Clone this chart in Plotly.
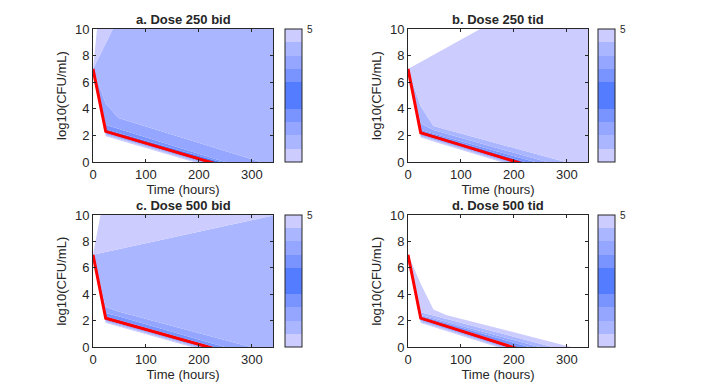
import plotly.graph_objects as go

# ---------------- data ----------------
T = [0, 24, 48, 72, 96, 120, 144, 168, 192, 216, 240, 264, 288, 312, 340]

# Panel a: Dose 250 bid  (percentile curves, low -> high)
A_LO5 = [7.00, 1.94, 1.66, 1.38, 1.10, 0.82, 0.54, 0.26, -0.03, -0.31, -0.59, -0.87, -1.15, -1.43, -1.76]
A_LO4 = [7.00, 2.02, 1.74, 1.46, 1.18, 0.90, 0.62, 0.34, 0.05, -0.23, -0.51, -0.79, -1.07, -1.35, -1.68]
A_LO3 = [7.00, 2.09, 1.81, 1.53, 1.25, 0.97, 0.69, 0.41, 0.12, -0.16, -0.44, -0.72, -1.00, -1.28, -1.61]
A_LO2 = [7.00, 2.16, 1.88, 1.60, 1.32, 1.04, 0.76, 0.48, 0.19, -0.09, -0.37, -0.65, -0.93, -1.21, -1.54]
A_LO1 = [7.00, 2.23, 1.95, 1.67, 1.39, 1.11, 0.83, 0.55, 0.26, -0.02, -0.30, -0.58, -0.86, -1.14, -1.47]
A_MED = [7.00, 2.30, 2.02, 1.74, 1.46, 1.18, 0.90, 0.62, 0.33, 0.05, -0.23, -0.51, -0.79, -1.07, -1.40]
A_HI1 = [7.00, 2.45, 2.18, 1.91, 1.64, 1.37, 1.10, 0.83, 0.55, 0.28, 0.01, -0.26, -0.53, -0.80, -1.12]
A_HI2 = [7.00, 2.80, 2.50, 2.20, 1.90, 1.60, 1.30, 1.00, 0.70, 0.40, 0.12, -0.17, -0.47, -0.77, -1.12]
A_HI3 = [7.00, 4.40, 3.30, 3.00, 2.70, 2.40, 2.12, 1.82, 1.52, 1.23, 0.94, 0.64, 0.35, 0.06, -0.28]
A_HI4 = [7.00, 8.90, 10.84, 11.5, 12.0, 12.5, 13.0, 13.3, 13.6, 13.9, 14.2, 14.5, 14.8, 15.1, 15.4]
A_HI5 = [7.00, 16.5, 18.0, 19.0, 19.8, 20.5, 21.0, 21.5, 22.0, 22.4, 22.8, 23.2, 23.6, 24.0, 24.4]

# Panel b: Dose 250 tid
B_LO5 = [7.00, 1.84, 1.55, 1.26, 0.97, 0.67, 0.38, 0.09, -0.20, -0.49, -0.78, -1.08, -1.37, -1.66, -2.00]
B_LO4 = [7.00, 1.92, 1.63, 1.34, 1.05, 0.75, 0.46, 0.17, -0.12, -0.41, -0.70, -1.00, -1.29, -1.58, -1.92]
B_LO3 = [7.00, 1.99, 1.70, 1.41, 1.12, 0.82, 0.53, 0.24, -0.05, -0.34, -0.63, -0.93, -1.22, -1.51, -1.85]
B_LO2 = [7.00, 2.06, 1.77, 1.48, 1.19, 0.89, 0.60, 0.31, 0.02, -0.27, -0.56, -0.86, -1.15, -1.44, -1.78]
B_LO1 = [7.00, 2.13, 1.84, 1.55, 1.26, 0.96, 0.67, 0.38, 0.09, -0.20, -0.49, -0.79, -1.08, -1.37, -1.71]
B_MED = [7.00, 2.20, 1.91, 1.62, 1.33, 1.03, 0.74, 0.45, 0.16, -0.13, -0.42, -0.72, -1.01, -1.30, -1.64]
B_HI1 = [7.00, 2.32, 2.04, 1.76, 1.47, 1.19, 0.91, 0.63, 0.35, 0.06, -0.22, -0.50, -0.78, -1.07, -1.40]
B_HI2 = [7.00, 2.40, 2.15, 1.88, 1.61, 1.34, 1.08, 0.81, 0.54, 0.27, 0.00, -0.27, -0.54, -0.81, -1.12]
B_HI3 = [7.00, 2.90, 2.40, 2.13, 1.86, 1.59, 1.32, 1.06, 0.79, 0.52, 0.25, -0.02, -0.29, -0.56, -0.87]
B_HI4 = [7.00, 4.20, 2.70, 2.44, 2.18, 1.92, 1.66, 1.40, 1.14, 0.88, 0.62, 0.36, 0.10, -0.16, -0.46]
B_HI5 = [7.00, 7.53, 8.06, 8.58, 9.11, 9.64, 10.17, 10.70, 11.22, 11.75, 12.28, 12.81, 13.34, 13.86, 14.48]

# Panel c: Dose 500 bid
C_LO5 = [7.00, 1.84, 1.57, 1.30, 1.03, 0.76, 0.49, 0.22, -0.05, -0.32, -0.59, -0.85, -1.12, -1.39, -1.71]
C_LO4 = [7.00, 1.92, 1.65, 1.38, 1.11, 0.84, 0.57, 0.30, 0.03, -0.24, -0.51, -0.77, -1.04, -1.31, -1.63]
C_LO3 = [7.00, 1.99, 1.72, 1.45, 1.18, 0.91, 0.64, 0.37, 0.10, -0.17, -0.44, -0.70, -0.97, -1.24, -1.56]
C_LO2 = [7.00, 2.06, 1.79, 1.52, 1.25, 0.98, 0.71, 0.44, 0.17, -0.10, -0.37, -0.63, -0.90, -1.17, -1.49]
C_LO1 = [7.00, 2.13, 1.86, 1.59, 1.32, 1.05, 0.78, 0.51, 0.24, -0.03, -0.30, -0.56, -0.83, -1.10, -1.42]
C_MED = [7.00, 2.20, 1.93, 1.66, 1.39, 1.12, 0.85, 0.58, 0.31, 0.04, -0.23, -0.49, -0.76, -1.03, -1.35]
C_HI1 = [7.00, 2.33, 2.06, 1.79, 1.52, 1.25, 0.98, 0.71, 0.44, 0.17, -0.10, -0.36, -0.63, -0.90, -1.22]
C_HI2 = [7.00, 2.60, 2.35, 2.07, 1.79, 1.51, 1.23, 0.96, 0.68, 0.40, 0.12, -0.16, -0.44, -0.72, -1.04]
C_HI3 = [7.00, 3.05, 2.70, 2.44, 2.19, 1.93, 1.67, 1.41, 1.16, 0.90, 0.64, 0.39, 0.13, -0.13, -0.43]
C_HI4 = [7.00, 7.21, 7.42, 7.63, 7.84, 8.04, 8.25, 8.46, 8.67, 8.88, 9.09, 9.30, 9.51, 9.71, 9.96]
C_HI5 = [7.00, 12.1, 14.0, 15.0, 15.8, 16.5, 17.0, 17.5, 18.0, 18.4, 18.8, 19.2, 19.6, 20.0, 20.4]

# Panel d: Dose 500 tid
D_LO5 = [7.00, 1.84, 1.54, 1.23, 0.93, 0.63, 0.32, 0.02, -0.28, -0.59, -0.89, -1.19, -1.50, -1.80, -2.16]
D_LO4 = [7.00, 1.92, 1.62, 1.31, 1.01, 0.71, 0.40, 0.10, -0.20, -0.51, -0.81, -1.11, -1.42, -1.72, -2.08]
D_LO3 = [7.00, 1.99, 1.69, 1.38, 1.08, 0.78, 0.47, 0.17, -0.13, -0.44, -0.74, -1.04, -1.35, -1.65, -2.01]
D_LO2 = [7.00, 2.06, 1.76, 1.45, 1.15, 0.85, 0.54, 0.24, -0.06, -0.37, -0.67, -0.97, -1.28, -1.58, -1.94]
D_LO1 = [7.00, 2.13, 1.83, 1.52, 1.22, 0.92, 0.61, 0.31, 0.01, -0.30, -0.60, -0.90, -1.21, -1.51, -1.87]
D_MED = [7.00, 2.20, 1.90, 1.59, 1.29, 0.99, 0.68, 0.38, 0.08, -0.23, -0.53, -0.83, -1.14, -1.44, -1.80]
D_HI1 = [7.00, 2.30, 2.00, 1.69, 1.39, 1.09, 0.78, 0.48, 0.18, -0.13, -0.43, -0.73, -1.04, -1.34, -1.70]
D_HI2 = [7.00, 2.35, 2.10, 1.82, 1.55, 1.27, 0.99, 0.72, 0.44, 0.16, -0.11, -0.39, -0.67, -0.94, -1.27]
D_HI3 = [7.00, 2.45, 2.20, 1.94, 1.68, 1.42, 1.15, 0.89, 0.63, 0.37, 0.11, -0.15, -0.41, -0.68, -0.98]
D_HI4 = [7.00, 2.65, 2.40, 2.15, 1.89, 1.64, 1.39, 1.13, 0.88, 0.63, 0.37, 0.12, -0.14, -0.39, -0.69]
D_HI5 = [7.00, 4.80, 2.85, 2.45, 2.20, 1.95, 1.70, 1.45, 1.20, 0.97, 0.72, 0.47, 0.23, -0.02, -0.31]

TITLES = ["a. Dose 250 bid", "b. Dose 250 tid", "c. Dose 500 bid", "d. Dose 500 tid"]
X_TICKS = [0, 100, 200, 300]
Y_TICKS = [0, 2, 4, 6, 8, 10]
CBAR_MIN, CBAR_MAX = -5, 5
CBAR_TICKS = [5]

# ---------------- styling ----------------
W, H = 714, 391
OFF = 8  # the page body margin shifts the figure by 8 px
C1 = "rgb(204,204,255)"
C2 = "rgb(170,182,255)"
C3 = "rgb(148,166,255)"
C4 = "rgb(122,148,255)"
C5 = "rgb(84,124,255)"
BAND_COLORS = [C1, C2, C3, C4, C5, C5, C4, C3, C2, C1]
AX_COLOR = "#262626"
FONT = "Liberation Sans, Arial, Helvetica, sans-serif"

panels = [
    [A_LO5, A_LO4, A_LO3, A_LO2, A_LO1, A_MED, A_HI1, A_HI2, A_HI3, A_HI4, A_HI5],
    [B_LO5, B_LO4, B_LO3, B_LO2, B_LO1, B_MED, B_HI1, B_HI2, B_HI3, B_HI4, B_HI5],
    [C_LO5, C_LO4, C_LO3, C_LO2, C_LO1, C_MED, C_HI1, C_HI2, C_HI3, C_HI4, C_HI5],
    [D_LO5, D_LO4, D_LO3, D_LO2, D_LO1, D_MED, D_HI1, D_HI2, D_HI3, D_HI4, D_HI5],
]
medians = [A_MED, B_MED, C_MED, D_MED]

# screen-pixel geometry of the plot boxes
XDOM = [(93, 273), (408, 588)]
YDOM = [(29, 162), (215, 347.3)]
CBX = [285, 598]

def px2fx(a, b):
    return [(a - OFF) / W, (b - OFF) / W]

def px2fy(a, b):
    return [1 - (b - OFF) / H, 1 - (a - OFF) / H]

fig = go.Figure()

# discrete symmetric colorscale for the colorbars
cs = []
for i, c in enumerate(BAND_COLORS):
    cs.append([i / 10, c])
    cs.append([(i + 1) / 10, c])

layout_axes = {}
annotations = []
for p in range(4):
    col = p % 2
    row = p // 2
    xa = "x" if p == 0 else f"x{p+1}"
    ya = "y" if p == 0 else f"y{p+1}"
    curves = panels[p]
    for k, yv in enumerate(curves):
        fig.add_trace(go.Scatter(
            x=T, y=yv, xaxis=xa, yaxis=ya, mode="lines",
            line=dict(width=0, color="rgba(0,0,0,0)"),
            fill=None if k == 0 else "tonexty",
            fillcolor=None if k == 0 else BAND_COLORS[k - 1],
            hoverinfo="skip", showlegend=False,
        ))
    fig.add_trace(go.Scatter(
        x=T, y=medians[p], xaxis=xa, yaxis=ya, mode="lines",
        line=dict(color="#FF0000", width=3), showlegend=False,
    ))
    y0, y1 = YDOM[row]
    fy = px2fy(y0, y1)
    fig.add_trace(go.Scatter(
        x=[T[0]], y=[-100], xaxis=xa, yaxis=ya, mode="markers",
        marker=dict(size=1, opacity=0, color=[CBAR_MAX], colorscale=cs,
                    cmin=CBAR_MIN, cmax=CBAR_MAX, showscale=True,
                    colorbar=dict(
                        x=(CBX[col] - OFF) / W, xanchor="left",
                        y=(fy[0] + fy[1]) / 2, yanchor="middle",
                        len=fy[1] - fy[0], lenmode="fraction",
                        thickness=17, thicknessmode="pixels",
                        outlinewidth=1, outlinecolor=AX_COLOR,
                        xpad=0, ypad=0,
                        tickvals=CBAR_TICKS, ticktext=[str(v) for v in CBAR_TICKS],
                        ticks="outside", ticklen=3, tickcolor="rgba(0,0,0,0)",
                        tickfont=dict(size=10, color=AX_COLOR, family=FONT),
                    )),
        hoverinfo="skip", showlegend=False,
    ))

    xd = px2fx(*XDOM[col])
    yd = fy
    xkey = "xaxis" if p == 0 else f"xaxis{p+1}"
    ykey = "yaxis" if p == 0 else f"yaxis{p+1}"
    layout_axes[xkey] = dict(
        domain=xd, anchor=ya, range=[0, 340], tickvals=X_TICKS,
        ticks="inside", ticklen=3, tickcolor=AX_COLOR, mirror="ticks",
        showline=True, linecolor=AX_COLOR, linewidth=1,
        showgrid=False, zeroline=False,
        tickfont=dict(size=13, color=AX_COLOR, family=FONT),
        title=dict(text="Time (hours)", standoff=2,
                   font=dict(size=13, color=AX_COLOR, family=FONT)),
    )
    layout_axes[ykey] = dict(
        domain=yd, anchor=xa, range=[0, 10], tickvals=Y_TICKS,
        ticks="inside", ticklen=3, tickcolor=AX_COLOR, mirror="ticks",
        showline=True, linecolor=AX_COLOR, linewidth=1,
        showgrid=False, zeroline=False,
        tickfont=dict(size=13, color=AX_COLOR, family=FONT),
        title=dict(text="log10(CFU/mL)", standoff=5,
                   font=dict(size=13, color=AX_COLOR, family=FONT)),
    )
    annotations.append(dict(
        text=f"<b>{TITLES[p]}</b>", xref="paper", yref="paper",
        x=(xd[0] + xd[1]) / 2, y=yd[1], xanchor="center", yanchor="bottom",
        showarrow=False, font=dict(size=13, color=AX_COLOR, family=FONT),
    ))

fig.update_layout(
    width=W, height=H,
    margin=dict(l=0, r=0, t=0, b=0, autoexpand=False),
    paper_bgcolor="white", plot_bgcolor="white",
    showlegend=False, annotations=annotations,
    font=dict(family=FONT, color=AX_COLOR),
    **layout_axes,
)

fig.write_html("out.html")
